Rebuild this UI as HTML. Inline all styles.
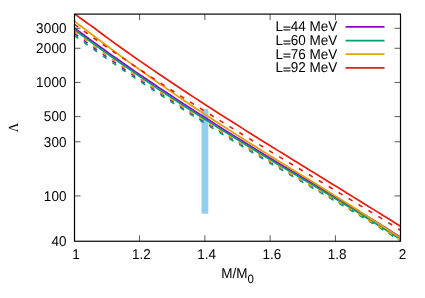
<!DOCTYPE html><html><head><meta charset="utf-8"><style>html,body{margin:0;padding:0;background:#fff;}svg{display:block;will-change:transform;}text{font-family:"Liberation Sans",sans-serif;fill:#000;text-rendering:geometricPrecision;}</style></head><body>
<svg width="425" height="298" viewBox="0 0 425 298">
<rect width="425" height="298" fill="#fff"/>
<rect x="201.5" y="109.10" width="6.8" height="104.60" fill="#91CEF1"/>
<clipPath id="c"><rect x="74.50" y="14.10" width="326.00" height="227.15"/></clipPath>
<g clip-path="url(#c)" fill="none" stroke-width="1.75">
<path d="M74.50 28.10 C75.50 28.85 78.50 31.09 80.50 32.57 C82.50 34.05 84.50 35.53 86.50 37.00 C88.50 38.47 90.50 39.93 92.50 41.39 C94.50 42.84 96.50 44.29 98.50 45.74 C100.50 47.18 102.50 48.62 104.50 50.05 C106.50 51.49 108.50 52.92 110.50 54.34 C112.50 55.76 114.50 57.17 116.50 58.58 C118.50 59.99 120.50 61.39 122.50 62.78 C124.50 64.18 126.50 65.57 128.50 66.96 C130.50 68.34 132.50 69.72 134.50 71.10 C136.50 72.47 138.50 73.84 140.50 75.20 C142.50 76.57 144.50 77.93 146.50 79.29 C148.50 80.64 150.50 81.99 152.50 83.34 C154.50 84.68 156.50 86.02 158.50 87.36 C160.50 88.69 162.50 90.02 164.50 91.34 C166.50 92.67 168.50 93.99 170.50 95.31 C172.50 96.62 174.50 97.93 176.50 99.24 C178.50 100.55 180.50 101.86 182.50 103.16 C184.50 104.46 186.50 105.76 188.50 107.05 C190.50 108.34 192.50 109.63 194.50 110.92 C196.50 112.20 198.50 113.48 200.50 114.75 C202.50 116.03 204.50 117.30 206.50 118.57 C208.50 119.84 210.50 121.10 212.50 122.36 C214.50 123.63 216.50 124.88 218.50 126.14 C220.50 127.40 222.50 128.65 224.50 129.90 C226.50 131.15 228.50 132.40 230.50 133.65 C232.50 134.89 234.50 136.13 236.50 137.38 C238.50 138.62 240.50 139.87 242.50 141.11 C244.50 142.35 246.50 143.59 248.50 144.82 C250.50 146.06 252.50 147.29 254.50 148.53 C256.50 149.76 258.50 150.99 260.50 152.22 C262.50 153.45 264.50 154.68 266.50 155.90 C268.50 157.13 270.50 158.36 272.50 159.58 C274.50 160.79 276.50 161.99 278.50 163.19 C280.50 164.38 282.50 165.57 284.50 166.75 C286.50 167.94 288.50 169.13 290.50 170.32 C292.50 171.50 294.50 172.69 296.50 173.87 C298.50 175.06 300.50 176.24 302.50 177.42 C304.50 178.61 306.50 179.79 308.50 180.97 C310.50 182.15 312.50 183.32 314.50 184.51 C316.50 185.71 318.50 186.94 320.50 188.15 C322.50 189.37 324.50 190.59 326.50 191.80 C328.50 193.02 330.50 194.23 332.50 195.45 C334.50 196.67 336.50 197.88 338.50 199.10 C340.50 200.31 342.50 201.53 344.50 202.75 C346.50 203.97 348.50 205.19 350.50 206.40 C352.50 207.62 354.50 208.84 356.50 210.04 C358.50 211.25 360.50 212.43 362.50 213.63 C364.50 214.83 366.50 216.03 368.50 217.23 C370.50 218.42 372.50 219.62 374.50 220.83 C376.50 222.03 378.50 223.21 380.50 224.45 C382.50 225.70 384.50 227.00 386.50 228.28 C388.50 229.56 390.50 230.84 392.50 232.12 C394.50 233.40 397.17 235.11 398.50 235.97 C399.83 236.82 400.17 237.03 400.50 237.25" stroke="#9400D3"/>
<path d="M74.50 33.55 C75.50 34.29 78.50 36.51 80.50 37.99 C82.50 39.46 84.50 40.92 86.50 42.38 C88.50 43.84 90.50 45.29 92.50 46.74 C94.50 48.19 96.50 49.63 98.50 51.06 C100.50 52.49 102.50 53.92 104.50 55.34 C106.50 56.77 108.50 58.18 110.50 59.59 C112.50 61.00 114.50 62.41 116.50 63.80 C118.50 65.20 120.50 66.59 122.50 67.97 C124.50 69.35 126.50 70.73 128.50 72.10 C130.50 73.47 132.50 74.84 134.50 76.20 C136.50 77.56 138.50 78.92 140.50 80.27 C142.50 81.62 144.50 82.97 146.50 84.31 C148.50 85.66 150.50 86.99 152.50 88.33 C154.50 89.66 156.50 91.00 158.50 92.32 C160.50 93.65 162.50 94.96 164.50 96.27 C166.50 97.59 168.50 98.90 170.50 100.20 C172.50 101.50 174.50 102.80 176.50 104.10 C178.50 105.40 180.50 106.69 182.50 107.98 C184.50 109.27 186.50 110.55 188.50 111.83 C190.50 113.11 192.50 114.39 194.50 115.67 C196.50 116.94 198.50 118.20 200.50 119.46 C202.50 120.73 204.50 121.99 206.50 123.24 C208.50 124.50 210.50 125.75 212.50 127.00 C214.50 128.25 216.50 129.50 218.50 130.75 C220.50 131.99 222.50 133.23 224.50 134.47 C226.50 135.71 228.50 136.95 230.50 138.18 C232.50 139.41 234.50 140.64 236.50 141.87 C238.50 143.10 240.50 144.32 242.50 145.54 C244.50 146.76 246.50 147.97 248.50 149.19 C250.50 150.40 252.50 151.62 254.50 152.83 C256.50 154.04 258.50 155.24 260.50 156.45 C262.50 157.66 264.50 158.86 266.50 160.06 C268.50 161.26 270.50 162.47 272.50 163.66 C274.50 164.86 276.50 166.05 278.50 167.23 C280.50 168.42 282.50 169.59 284.50 170.77 C286.50 171.95 288.50 173.13 290.50 174.31 C292.50 175.48 294.50 176.66 296.50 177.84 C298.50 179.01 300.50 180.19 302.50 181.36 C304.50 182.53 306.50 183.71 308.50 184.88 C310.50 186.05 312.50 187.22 314.50 188.40 C316.50 189.57 318.50 190.75 320.50 191.93 C322.50 193.10 324.50 194.28 326.50 195.46 C328.50 196.64 330.50 197.81 332.50 198.99 C334.50 200.17 336.50 201.34 338.50 202.52 C340.50 203.70 342.50 204.88 344.50 206.06 C346.50 207.23 348.50 208.41 350.50 209.59 C352.50 210.78 354.50 211.96 356.50 213.16 C358.50 214.36 360.50 215.58 362.50 216.79 C364.50 218.00 366.50 219.21 368.50 220.43 C370.50 221.64 372.50 222.86 374.50 224.07 C376.50 225.29 378.50 226.49 380.50 227.74 C382.50 228.99 384.50 230.30 386.50 231.57 C388.50 232.85 390.50 234.13 392.50 235.42 C394.50 236.70 397.17 238.41 398.50 239.27 C399.83 240.12 400.17 240.33 400.50 240.55" stroke="#9400D3" stroke-dasharray="4.6 7.035" stroke-width="1.6"/>
<path d="M74.50 29.70 C75.50 30.45 78.50 32.69 80.50 34.18 C82.50 35.66 84.50 37.14 86.50 38.61 C88.50 40.08 90.50 41.55 92.50 43.01 C94.50 44.47 96.50 45.92 98.50 47.37 C100.50 48.82 102.50 50.26 104.50 51.69 C106.50 53.13 108.50 54.56 110.50 55.98 C112.50 57.40 114.50 58.82 116.50 60.24 C118.50 61.65 120.50 63.06 122.50 64.46 C124.50 65.86 126.50 67.26 128.50 68.65 C130.50 70.04 132.50 71.43 134.50 72.81 C136.50 74.20 138.50 75.57 140.50 76.94 C142.50 78.32 144.50 79.68 146.50 81.05 C148.50 82.41 150.50 83.77 152.50 85.12 C154.50 86.47 156.50 87.81 158.50 89.15 C160.50 90.48 162.50 91.81 164.50 93.14 C166.50 94.46 168.50 95.79 170.50 97.10 C172.50 98.42 174.50 99.73 176.50 101.04 C178.50 102.35 180.50 103.66 182.50 104.96 C184.50 106.26 186.50 107.56 188.50 108.86 C190.50 110.15 192.50 111.45 194.50 112.73 C196.50 114.01 198.50 115.28 200.50 116.55 C202.50 117.82 204.50 119.08 206.50 120.35 C208.50 121.61 210.50 122.87 212.50 124.12 C214.50 125.38 216.50 126.63 218.50 127.89 C220.50 129.14 222.50 130.38 224.50 131.63 C226.50 132.88 228.50 134.12 230.50 135.36 C232.50 136.60 234.50 137.84 236.50 139.07 C238.50 140.31 240.50 141.54 242.50 142.77 C244.50 144.00 246.50 145.23 248.50 146.46 C250.50 147.68 252.50 148.91 254.50 150.13 C256.50 151.35 258.50 152.57 260.50 153.79 C262.50 155.01 264.50 156.23 266.50 157.44 C268.50 158.66 270.50 159.88 272.50 161.09 C274.50 162.29 276.50 163.49 278.50 164.69 C280.50 165.88 282.50 167.07 284.50 168.25 C286.50 169.44 288.50 170.63 290.50 171.82 C292.50 173.00 294.50 174.19 296.50 175.37 C298.50 176.56 300.50 177.74 302.50 178.92 C304.50 180.11 306.50 181.29 308.50 182.47 C310.50 183.65 312.50 184.82 314.50 186.01 C316.50 187.21 318.50 188.44 320.50 189.65 C322.50 190.87 324.50 192.09 326.50 193.30 C328.50 194.52 330.50 195.73 332.50 196.95 C334.50 198.17 336.50 199.38 338.50 200.60 C340.50 201.81 342.50 203.03 344.50 204.25 C346.50 205.47 348.50 206.68 350.50 207.90 C352.50 209.12 354.50 210.34 356.50 211.58 C358.50 212.81 360.50 214.07 362.50 215.31 C364.50 216.56 366.50 217.80 368.50 219.05 C370.50 220.30 372.50 221.54 374.50 222.79 C376.50 224.05 378.50 225.29 380.50 226.55 C382.50 227.82 384.50 229.10 386.50 230.38 C388.50 231.66 390.50 232.94 392.50 234.22 C394.50 235.50 397.17 237.21 398.50 238.07 C399.83 238.92 400.17 239.13 400.50 239.35" stroke="#009E73"/>
<path d="M74.50 35.55 C75.50 36.28 78.50 38.48 80.50 39.93 C82.50 41.39 84.50 42.83 86.50 44.27 C88.50 45.71 90.50 47.15 92.50 48.58 C94.50 50.01 96.50 51.43 98.50 52.84 C100.50 54.26 102.50 55.67 104.50 57.07 C106.50 58.48 108.50 59.88 110.50 61.27 C112.50 62.66 114.50 64.05 116.50 65.43 C118.50 66.80 120.50 68.17 122.50 69.54 C124.50 70.90 126.50 72.26 128.50 73.61 C130.50 74.97 132.50 76.32 134.50 77.66 C136.50 79.00 138.50 80.34 140.50 81.68 C142.50 83.01 144.50 84.34 146.50 85.66 C148.50 86.99 150.50 88.30 152.50 89.63 C154.50 90.95 156.50 92.28 158.50 93.60 C160.50 94.92 162.50 96.23 164.50 97.53 C166.50 98.84 168.50 100.14 170.50 101.44 C172.50 102.73 174.50 104.03 176.50 105.32 C178.50 106.61 180.50 107.89 182.50 109.17 C184.50 110.46 186.50 111.73 188.50 113.01 C190.50 114.28 192.50 115.56 194.50 116.82 C196.50 118.09 198.50 119.34 200.50 120.60 C202.50 121.86 204.50 123.11 206.50 124.36 C208.50 125.61 210.50 126.85 212.50 128.10 C214.50 129.34 216.50 130.58 218.50 131.82 C220.50 133.06 222.50 134.29 224.50 135.52 C226.50 136.76 228.50 137.99 230.50 139.21 C232.50 140.44 234.50 141.66 236.50 142.88 C238.50 144.10 240.50 145.32 242.50 146.53 C244.50 147.74 246.50 148.95 248.50 150.16 C250.50 151.37 252.50 152.58 254.50 153.78 C256.50 154.98 258.50 156.18 260.50 157.38 C262.50 158.57 264.50 159.77 266.50 160.96 C268.50 162.15 270.50 163.35 272.50 164.54 C274.50 165.72 276.50 166.90 278.50 168.08 C280.50 169.25 282.50 170.42 284.50 171.59 C286.50 172.76 288.50 173.93 290.50 175.10 C292.50 176.27 294.50 177.43 296.50 178.60 C298.50 179.77 300.50 180.93 302.50 182.10 C304.50 183.26 306.50 184.43 308.50 185.59 C310.50 186.75 312.50 187.92 314.50 189.08 C316.50 190.25 318.50 191.42 320.50 192.58 C322.50 193.75 324.50 194.92 326.50 196.09 C328.50 197.26 330.50 198.42 332.50 199.59 C334.50 200.76 336.50 201.93 338.50 203.10 C340.50 204.27 342.50 205.43 344.50 206.60 C346.50 207.77 348.50 208.94 350.50 210.11 C352.50 211.29 354.50 212.46 356.50 213.65 C358.50 214.84 360.50 216.05 362.50 217.26 C364.50 218.46 366.50 219.66 368.50 220.87 C370.50 222.08 372.50 223.28 374.50 224.49 C376.50 225.70 378.50 226.89 380.50 228.13 C382.50 229.37 384.50 230.67 386.50 231.93 C388.50 233.20 390.50 234.48 392.50 235.75 C394.50 237.02 397.17 238.72 398.50 239.57 C399.83 240.42 400.17 240.63 400.50 240.85" stroke="#009E73" stroke-dasharray="4.6 7.035" stroke-width="1.6"/>
<path d="M74.50 21.17 C75.50 21.95 78.50 24.27 80.50 25.81 C82.50 27.36 84.50 28.90 86.50 30.43 C88.50 31.97 90.50 33.49 92.50 35.01 C94.50 36.53 96.50 38.05 98.50 39.55 C100.50 41.06 102.50 42.57 104.50 44.06 C106.50 45.56 108.50 47.05 110.50 48.53 C112.50 50.02 114.50 51.50 116.50 52.97 C118.50 54.43 120.50 55.89 122.50 57.35 C124.50 58.80 126.50 60.25 128.50 61.70 C130.50 63.14 132.50 64.58 134.50 66.02 C136.50 67.45 138.50 68.88 140.50 70.30 C142.50 71.73 144.50 73.15 146.50 74.56 C148.50 75.98 150.50 77.39 152.50 78.79 C154.50 80.20 156.50 81.59 158.50 82.98 C160.50 84.37 162.50 85.76 164.50 87.14 C166.50 88.52 168.50 89.90 170.50 91.27 C172.50 92.64 174.50 94.01 176.50 95.38 C178.50 96.74 180.50 98.10 182.50 99.46 C184.50 100.81 186.50 102.17 188.50 103.52 C190.50 104.87 192.50 106.22 194.50 107.55 C196.50 108.88 198.50 110.18 200.50 111.49 C202.50 112.80 204.50 114.10 206.50 115.40 C208.50 116.71 210.50 118.00 212.50 119.30 C214.50 120.59 216.50 121.88 218.50 123.17 C220.50 124.46 222.50 125.75 224.50 127.03 C226.50 128.31 228.50 129.59 230.50 130.87 C232.50 132.15 234.50 133.43 236.50 134.70 C238.50 135.97 240.50 137.24 242.50 138.50 C244.50 139.77 246.50 141.03 248.50 142.29 C250.50 143.55 252.50 144.81 254.50 146.07 C256.50 147.33 258.50 148.58 260.50 149.84 C262.50 151.09 264.50 152.35 266.50 153.60 C268.50 154.85 270.50 156.10 272.50 157.34 C274.50 158.59 276.50 159.82 278.50 161.05 C280.50 162.28 282.50 163.50 284.50 164.72 C286.50 165.94 288.50 167.17 290.50 168.39 C292.50 169.61 294.50 170.83 296.50 172.05 C298.50 173.27 300.50 174.49 302.50 175.70 C304.50 176.92 306.50 178.14 308.50 179.36 C310.50 180.57 312.50 181.77 314.50 183.01 C316.50 184.24 318.50 185.50 320.50 186.75 C322.50 188.00 324.50 189.25 326.50 190.50 C328.50 191.75 330.50 193.00 332.50 194.26 C334.50 195.51 336.50 196.76 338.50 198.01 C340.50 199.26 342.50 200.51 344.50 201.77 C346.50 203.02 348.50 204.27 350.50 205.52 C352.50 206.78 354.50 208.04 356.50 209.31 C358.50 210.58 360.50 211.88 362.50 213.16 C364.50 214.45 366.50 215.73 368.50 217.02 C370.50 218.31 372.50 219.59 374.50 220.88 C376.50 222.17 378.50 223.46 380.50 224.76 C382.50 226.06 384.50 227.37 386.50 228.68 C388.50 229.99 390.50 231.30 392.50 232.61 C394.50 233.92 397.17 235.67 398.50 236.55 C399.83 237.42 400.17 237.63 400.50 237.85" stroke="#E69F00"/>
<path d="M74.50 31.55 C75.50 32.30 78.50 34.55 80.50 36.04 C82.50 37.53 84.50 39.01 86.50 40.49 C88.50 41.97 90.50 43.44 92.50 44.90 C94.50 46.37 96.50 47.82 98.50 49.28 C100.50 50.73 102.50 52.18 104.50 53.62 C106.50 55.06 108.50 56.49 110.50 57.92 C112.50 59.35 114.50 60.77 116.50 62.18 C118.50 63.60 120.50 65.00 122.50 66.40 C124.50 67.80 126.50 69.20 128.50 70.59 C130.50 71.98 132.50 73.36 134.50 74.74 C136.50 76.12 138.50 77.50 140.50 78.87 C142.50 80.24 144.50 81.60 146.50 82.96 C148.50 84.32 150.50 85.68 152.50 87.03 C154.50 88.38 156.50 89.72 158.50 91.05 C160.50 92.38 162.50 93.70 164.50 95.02 C166.50 96.34 168.50 97.65 170.50 98.96 C172.50 100.27 174.50 101.58 176.50 102.88 C178.50 104.19 180.50 105.49 182.50 106.78 C184.50 108.08 186.50 109.37 188.50 110.66 C190.50 111.94 192.50 113.23 194.50 114.51 C196.50 115.79 198.50 117.06 200.50 118.33 C202.50 119.60 204.50 120.87 206.50 122.13 C208.50 123.39 210.50 124.65 212.50 125.91 C214.50 127.17 216.50 128.42 218.50 129.67 C220.50 130.92 222.50 132.17 224.50 133.42 C226.50 134.66 228.50 135.91 230.50 137.15 C232.50 138.39 234.50 139.62 236.50 140.86 C238.50 142.09 240.50 143.32 242.50 144.54 C244.50 145.77 246.50 146.99 248.50 148.22 C250.50 149.44 252.50 150.66 254.50 151.88 C256.50 153.09 258.50 154.31 260.50 155.52 C262.50 156.74 264.50 157.95 266.50 159.16 C268.50 160.38 270.50 161.59 272.50 162.79 C274.50 164.00 276.50 165.19 278.50 166.39 C280.50 167.58 282.50 168.77 284.50 169.95 C286.50 171.14 288.50 172.33 290.50 173.52 C292.50 174.70 294.50 175.89 296.50 177.07 C298.50 178.26 300.50 179.44 302.50 180.62 C304.50 181.81 306.50 182.99 308.50 184.17 C310.50 185.35 312.50 186.53 314.50 187.71 C316.50 188.90 318.50 190.09 320.50 191.27 C322.50 192.46 324.50 193.64 326.50 194.83 C328.50 196.01 330.50 197.20 332.50 198.39 C334.50 199.57 336.50 200.76 338.50 201.95 C340.50 203.13 342.50 204.32 344.50 205.51 C346.50 206.69 348.50 207.88 350.50 209.07 C352.50 210.26 354.50 211.45 356.50 212.66 C358.50 213.87 360.50 215.10 362.50 216.32 C364.50 217.54 366.50 218.76 368.50 219.99 C370.50 221.21 372.50 222.43 374.50 223.66 C376.50 224.89 378.50 226.10 380.50 227.36 C382.50 228.61 384.50 229.93 386.50 231.21 C388.50 232.50 390.50 233.79 392.50 235.08 C394.50 236.37 397.17 238.10 398.50 238.96 C399.83 239.82 400.17 240.03 400.50 240.25" stroke="#E69F00" stroke-dasharray="4.6 7.035" stroke-width="1.6"/>
<path d="M74.50 13.85 C75.50 14.58 78.50 16.77 80.50 18.22 C82.50 19.66 84.50 21.10 86.50 22.53 C88.50 23.96 90.50 25.36 92.50 26.81 C94.50 28.25 96.50 29.73 98.50 31.21 C100.50 32.68 102.50 34.19 104.50 35.68 C106.50 37.16 108.50 38.65 110.50 40.12 C112.50 41.59 114.50 43.06 116.50 44.50 C118.50 45.94 120.50 47.35 122.50 48.76 C124.50 50.18 126.50 51.59 128.50 53.00 C130.50 54.40 132.50 55.80 134.50 57.20 C136.50 58.60 138.50 59.99 140.50 61.37 C142.50 62.76 144.50 64.14 146.50 65.52 C148.50 66.89 150.50 68.27 152.50 69.63 C154.50 71.00 156.50 72.36 158.50 73.71 C160.50 75.06 162.50 76.41 164.50 77.76 C166.50 79.10 168.50 80.44 170.50 81.78 C172.50 83.11 174.50 84.44 176.50 85.77 C178.50 87.10 180.50 88.42 182.50 89.75 C184.50 91.07 186.50 92.38 188.50 93.70 C190.50 95.01 192.50 96.32 194.50 97.62 C196.50 98.93 198.50 100.23 200.50 101.53 C202.50 102.83 204.50 104.13 206.50 105.42 C208.50 106.71 210.50 108.00 212.50 109.29 C214.50 110.57 216.50 111.86 218.50 113.14 C220.50 114.42 222.50 115.70 224.50 116.97 C226.50 118.25 228.50 119.52 230.50 120.79 C232.50 122.06 234.50 123.33 236.50 124.59 C238.50 125.86 240.50 127.12 242.50 128.38 C244.50 129.64 246.50 130.90 248.50 132.16 C250.50 133.42 252.50 134.67 254.50 135.92 C256.50 137.17 258.50 138.43 260.50 139.67 C262.50 140.92 264.50 142.17 266.50 143.42 C268.50 144.66 270.50 145.91 272.50 147.15 C274.50 148.39 276.50 149.63 278.50 150.87 C280.50 152.12 282.50 153.35 284.50 154.59 C286.50 155.83 288.50 157.07 290.50 158.30 C292.50 159.54 294.50 160.77 296.50 162.01 C298.50 163.24 300.50 164.48 302.50 165.71 C304.50 166.94 306.50 168.18 308.50 169.41 C310.50 170.64 312.50 171.87 314.50 173.10 C316.50 174.33 318.50 175.56 320.50 176.80 C322.50 178.03 324.50 179.26 326.50 180.49 C328.50 181.72 330.50 182.95 332.50 184.18 C334.50 185.41 336.50 186.64 338.50 187.87 C340.50 189.11 342.50 190.34 344.50 191.57 C346.50 192.80 348.50 194.04 350.50 195.27 C352.50 196.50 354.50 197.74 356.50 198.97 C358.50 200.21 360.50 201.44 362.50 202.68 C364.50 203.92 366.50 205.16 368.50 206.40 C370.50 207.63 372.50 208.87 374.50 210.12 C376.50 211.36 378.50 212.60 380.50 213.85 C382.50 215.09 384.50 216.34 386.50 217.58 C388.50 218.83 390.50 220.08 392.50 221.33 C394.50 222.58 397.17 224.25 398.50 225.09 C399.83 225.93 400.17 226.14 400.50 226.35" stroke="#E51E10"/>
<path d="M74.50 24.37 C75.50 25.09 78.50 27.27 80.50 28.70 C82.50 30.14 84.50 31.56 86.50 32.98 C88.50 34.40 90.50 35.81 92.50 37.21 C94.50 38.62 96.50 40.02 98.50 41.42 C100.50 42.81 102.50 44.20 104.50 45.58 C106.50 46.96 108.50 48.34 110.50 49.71 C112.50 51.08 114.50 52.45 116.50 53.81 C118.50 55.17 120.50 56.54 122.50 57.89 C124.50 59.24 126.50 60.59 128.50 61.94 C130.50 63.28 132.50 64.62 134.50 65.96 C136.50 67.29 138.50 68.62 140.50 69.94 C142.50 71.27 144.50 72.59 146.50 73.90 C148.50 75.21 150.50 76.52 152.50 77.83 C154.50 79.14 156.50 80.44 158.50 81.74 C160.50 83.04 162.50 84.34 164.50 85.64 C166.50 86.93 168.50 88.22 170.50 89.51 C172.50 90.79 174.50 92.07 176.50 93.35 C178.50 94.63 180.50 95.90 182.50 97.17 C184.50 98.44 186.50 99.71 188.50 100.97 C190.50 102.23 192.50 103.49 194.50 104.75 C196.50 106.00 198.50 107.26 200.50 108.52 C202.50 109.77 204.50 111.02 206.50 112.27 C208.50 113.52 210.50 114.77 212.50 116.01 C214.50 117.25 216.50 118.49 218.50 119.73 C220.50 120.96 222.50 122.20 224.50 123.43 C226.50 124.66 228.50 125.88 230.50 127.11 C232.50 128.34 234.50 129.56 236.50 130.78 C238.50 132.01 240.50 133.24 242.50 134.46 C244.50 135.68 246.50 136.90 248.50 138.12 C250.50 139.34 252.50 140.55 254.50 141.77 C256.50 142.98 258.50 144.19 260.50 145.40 C262.50 146.61 264.50 147.82 266.50 149.03 C268.50 150.24 270.50 151.44 272.50 152.65 C274.50 153.85 276.50 155.06 278.50 156.27 C280.50 157.48 282.50 158.68 284.50 159.89 C286.50 161.10 288.50 162.30 290.50 163.51 C292.50 164.71 294.50 165.91 296.50 167.11 C298.50 168.32 300.50 169.52 302.50 170.72 C304.50 171.92 306.50 173.12 308.50 174.32 C310.50 175.52 312.50 176.72 314.50 177.92 C316.50 179.12 318.50 180.33 320.50 181.53 C322.50 182.74 324.50 183.94 326.50 185.15 C328.50 186.35 330.50 187.56 332.50 188.76 C334.50 189.97 336.50 191.17 338.50 192.38 C340.50 193.58 342.50 194.79 344.50 196.00 C346.50 197.20 348.50 198.41 350.50 199.62 C352.50 200.83 354.50 202.03 356.50 203.25 C358.50 204.46 360.50 205.67 362.50 206.88 C364.50 208.10 366.50 209.31 368.50 210.53 C370.50 211.74 372.50 212.96 374.50 214.18 C376.50 215.40 378.50 216.62 380.50 217.84 C382.50 219.07 384.50 220.30 386.50 221.54 C388.50 222.77 390.50 224.00 392.50 225.24 C394.50 226.47 397.17 228.13 398.50 228.95 C399.83 229.78 400.17 229.99 400.50 230.20" stroke="#E51E10" stroke-dasharray="4.6 7.0" stroke-width="1.6"/>
</g>
<path d="M139.58 241.25 V235.25 M139.58 14.10 V20.10 M204.86 241.25 V235.25 M204.86 14.10 V20.10 M270.14 241.25 V235.25 M270.14 14.10 V20.10 M335.42 241.25 V235.25 M335.42 14.10 V20.10 M74.50 195.93 H80.50 M400.50 195.93 H394.50 M74.50 141.78 H80.50 M400.50 141.78 H394.50 M74.50 116.60 H80.50 M400.50 116.60 H394.50 M74.50 82.43 H80.50 M400.50 82.43 H394.50 M74.50 48.27 H80.50 M400.50 48.27 H394.50 M74.50 28.28 H80.50 M400.50 28.28 H394.50" stroke="#111" stroke-width="0.7" fill="none"/>
<rect x="74.50" y="14.10" width="326.00" height="227.15" fill="none" stroke="#000" stroke-width="1.18"/>
<text transform="translate(66.75,245.95) scale(1,1.050)" font-size="13.50" text-anchor="end" letter-spacing="0.15">40</text>
<text transform="translate(66.75,200.78) scale(1,1.050)" font-size="13.50" text-anchor="end" letter-spacing="0.15">100</text>
<text transform="translate(66.75,146.63) scale(1,1.050)" font-size="13.50" text-anchor="end" letter-spacing="0.15">300</text>
<text transform="translate(66.75,121.45) scale(1,1.050)" font-size="13.50" text-anchor="end" letter-spacing="0.15">500</text>
<text transform="translate(66.75,87.28) scale(1,1.050)" font-size="13.50" text-anchor="end" letter-spacing="0.15">1000</text>
<text transform="translate(66.75,53.12) scale(1,1.050)" font-size="13.50" text-anchor="end" letter-spacing="0.15">2000</text>
<text transform="translate(66.75,33.13) scale(1,1.050)" font-size="13.50" text-anchor="end" letter-spacing="0.15">3000</text>
<text transform="translate(76.10,259.20) scale(1,1.050)" font-size="13.50" text-anchor="middle">1</text>
<text transform="translate(141.38,259.20) scale(1,1.050)" font-size="13.50" text-anchor="middle">1.2</text>
<text transform="translate(206.66,259.20) scale(1,1.050)" font-size="13.50" text-anchor="middle">1.4</text>
<text transform="translate(271.94,259.20) scale(1,1.050)" font-size="13.50" text-anchor="middle">1.6</text>
<text transform="translate(337.22,259.20) scale(1,1.050)" font-size="13.50" text-anchor="middle">1.8</text>
<text transform="translate(402.50,259.20) scale(1,1.050)" font-size="13.50" text-anchor="middle">2</text>
<text transform="translate(221.20,278.40) scale(1,1.050)" font-size="13.50">M/M<tspan dy="4.3" font-size="11.47">0</tspan></text>
<text transform="translate(17.9,127.6) rotate(-90) scale(0.92,1)" font-size="14" text-anchor="middle" style="font-family:'Liberation Serif',serif">Λ</text>
<text transform="translate(275.38,31.30) scale(1,1.050)" font-size="13.50">L</text>
<text transform="translate(282.89,32.10) scale(1,0.8)" font-size="13.50" stroke="#000" stroke-width="0.35">=</text>
<text transform="translate(337.30,31.30) scale(1,1.050)" font-size="13.50" text-anchor="end">44 MeV</text>
<path d="M345.6 26.95 H384.5" stroke="#9400D3" stroke-width="1.75" fill="none"/>
<text transform="translate(275.38,44.90) scale(1,1.050)" font-size="13.50">L</text>
<text transform="translate(282.89,45.70) scale(1,0.8)" font-size="13.50" stroke="#000" stroke-width="0.35">=</text>
<text transform="translate(337.30,44.90) scale(1,1.050)" font-size="13.50" text-anchor="end">60 MeV</text>
<path d="M345.6 40.55 H384.5" stroke="#009E73" stroke-width="1.75" fill="none"/>
<text transform="translate(275.38,58.50) scale(1,1.050)" font-size="13.50">L</text>
<text transform="translate(282.89,59.30) scale(1,0.8)" font-size="13.50" stroke="#000" stroke-width="0.35">=</text>
<text transform="translate(337.30,58.50) scale(1,1.050)" font-size="13.50" text-anchor="end">76 MeV</text>
<path d="M345.6 54.15 H384.5" stroke="#E69F00" stroke-width="1.75" fill="none"/>
<text transform="translate(275.38,72.10) scale(1,1.050)" font-size="13.50">L</text>
<text transform="translate(282.89,72.90) scale(1,0.8)" font-size="13.50" stroke="#000" stroke-width="0.35">=</text>
<text transform="translate(337.30,72.10) scale(1,1.050)" font-size="13.50" text-anchor="end">92 MeV</text>
<path d="M345.6 67.75 H384.5" stroke="#E51E10" stroke-width="1.75" fill="none"/>
</svg></body></html>
